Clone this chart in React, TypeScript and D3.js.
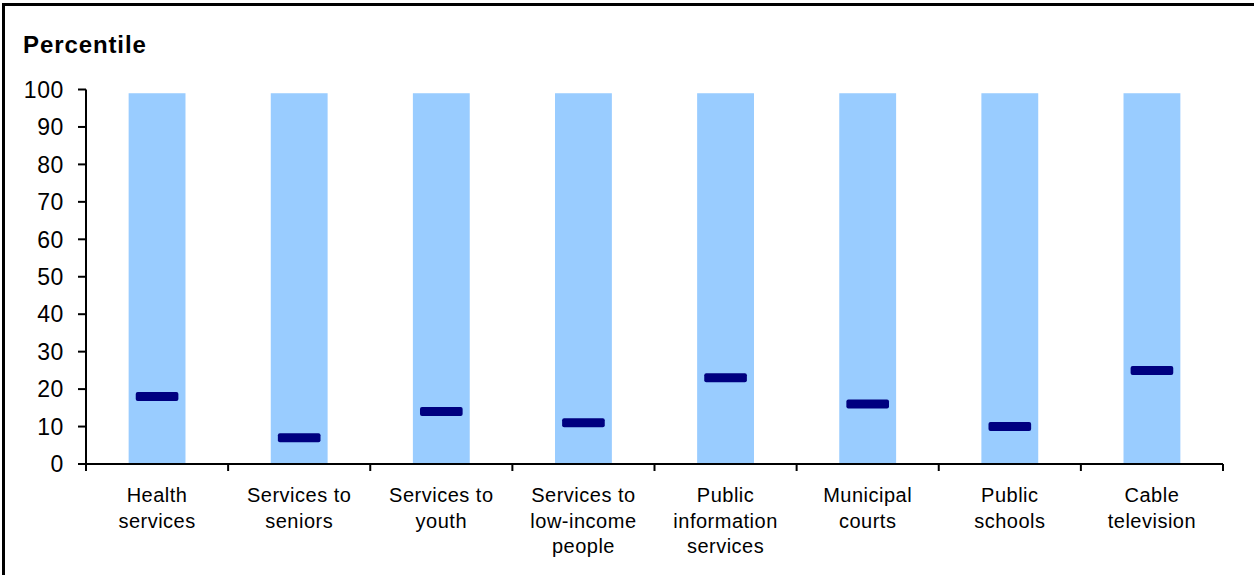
import React from "react";
import * as d3 from "d3";

// Service categories (two- or three-line labels)
const categories: string[][] = [
  ["Health", "services"],
  ["Services to", "seniors"],
  ["Services to", "youth"],
  ["Services to", "low-income", "people"],
  ["Public", "information", "services"],
  ["Municipal", "courts"],
  ["Public", "schools"],
  ["Cable", "television"],
];

// Percentile rank for each service
const percentiles: number[] = [18, 7, 14, 11, 23, 16, 10, 25];

// Full range shown behind each marker
const rangeTop: number[] = [99, 99, 99, 99, 99, 99, 99, 99];

const yTicks: number[] = [0, 10, 20, 30, 40, 50, 60, 70, 80, 90, 100];

const W = 1254;
const H = 575;
const left = 86;
const right = 1223;
const top = 89.5;
const bottom = 464;

export default function App() {
  const x = d3
    .scaleBand<number>()
    .domain(categories.map((_, i) => i))
    .range([left, right])
    .paddingInner(0)
    .paddingOuter(0);
  const y = d3.scaleLinear().domain([0, 100]).range([bottom, top]);
  const bw = x.bandwidth();
  const barW = bw * 0.4;
  const markW = bw * 0.3;
  const markH = 9;
  const font = "Arial, 'Liberation Sans', Helvetica, sans-serif";

  const boundaries = d3.range(categories.length + 1).map((i) => left + i * bw);

  return (
    <svg
      width={W}
      height={H}
      style={{ position: "absolute", left: 0, top: 0, display: "block" }}
      fontFamily={font}
    >
      <rect x={0} y={0} width={W} height={H} fill="#fff" />
      {/* outer frame */}
      <line x1={3.5} y1={3} x2={3.5} y2={H} stroke="#000" strokeWidth={3} />
      <line x1={2} y1={4.5} x2={W} y2={4.5} stroke="#000" strokeWidth={3} />

      <text x={23} y={53} fontSize={24} fontWeight="bold" letterSpacing={0.9} fill="#000">
        Percentile
      </text>

      {/* range bars */}
      {rangeTop.map((v, i) => (
        <rect
          key={"b" + i}
          x={(x(i) as number) + (bw - barW) / 2}
          y={y(v)}
          width={barW}
          height={y(0) - y(v)}
          fill="#99CCFF"
        />
      ))}

      {/* percentile markers */}
      {percentiles.map((v, i) => (
        <rect
          key={"m" + i}
          x={(x(i) as number) + (bw - markW) / 2}
          y={y(v) - markH / 2}
          width={markW}
          height={markH}
          rx={2}
          fill="#000080"
        />
      ))}

      {/* y axis */}
      <line x1={left} y1={top} x2={left} y2={bottom} stroke="#000" strokeWidth={2} />
      {yTicks.map((t) => (
        <g key={"yt" + t}>
          <line x1={left - 8} y1={y(t)} x2={left} y2={y(t)} stroke="#000" strokeWidth={2} />
          <text
            x={64}
            y={y(t)}
            dy="0.36em"
            textAnchor="end"
            fontSize={23}
            letterSpacing={0.6}
            fill="#000"
          >
            {t}
          </text>
        </g>
      ))}

      {/* x axis */}
      <line x1={left} y1={bottom} x2={right} y2={bottom} stroke="#000" strokeWidth={2} />
      {boundaries.map((bx, i) => (
        <line key={"xt" + i} x1={bx} y1={bottom} x2={bx} y2={bottom + 7} stroke="#000" strokeWidth={2} />
      ))}
      {categories.map((lines, i) => (
        <text
          key={"c" + i}
          x={(x(i) as number) + bw / 2}
          y={502}
          textAnchor="middle"
          fontSize={20}
          letterSpacing={0.5}
          fill="#000"
        >
          {lines.map((ln, j) => (
            <tspan key={j} x={(x(i) as number) + bw / 2} y={502 + j * 25.5}>
              {ln}
            </tspan>
          ))}
        </text>
      ))}
    </svg>
  );
}
